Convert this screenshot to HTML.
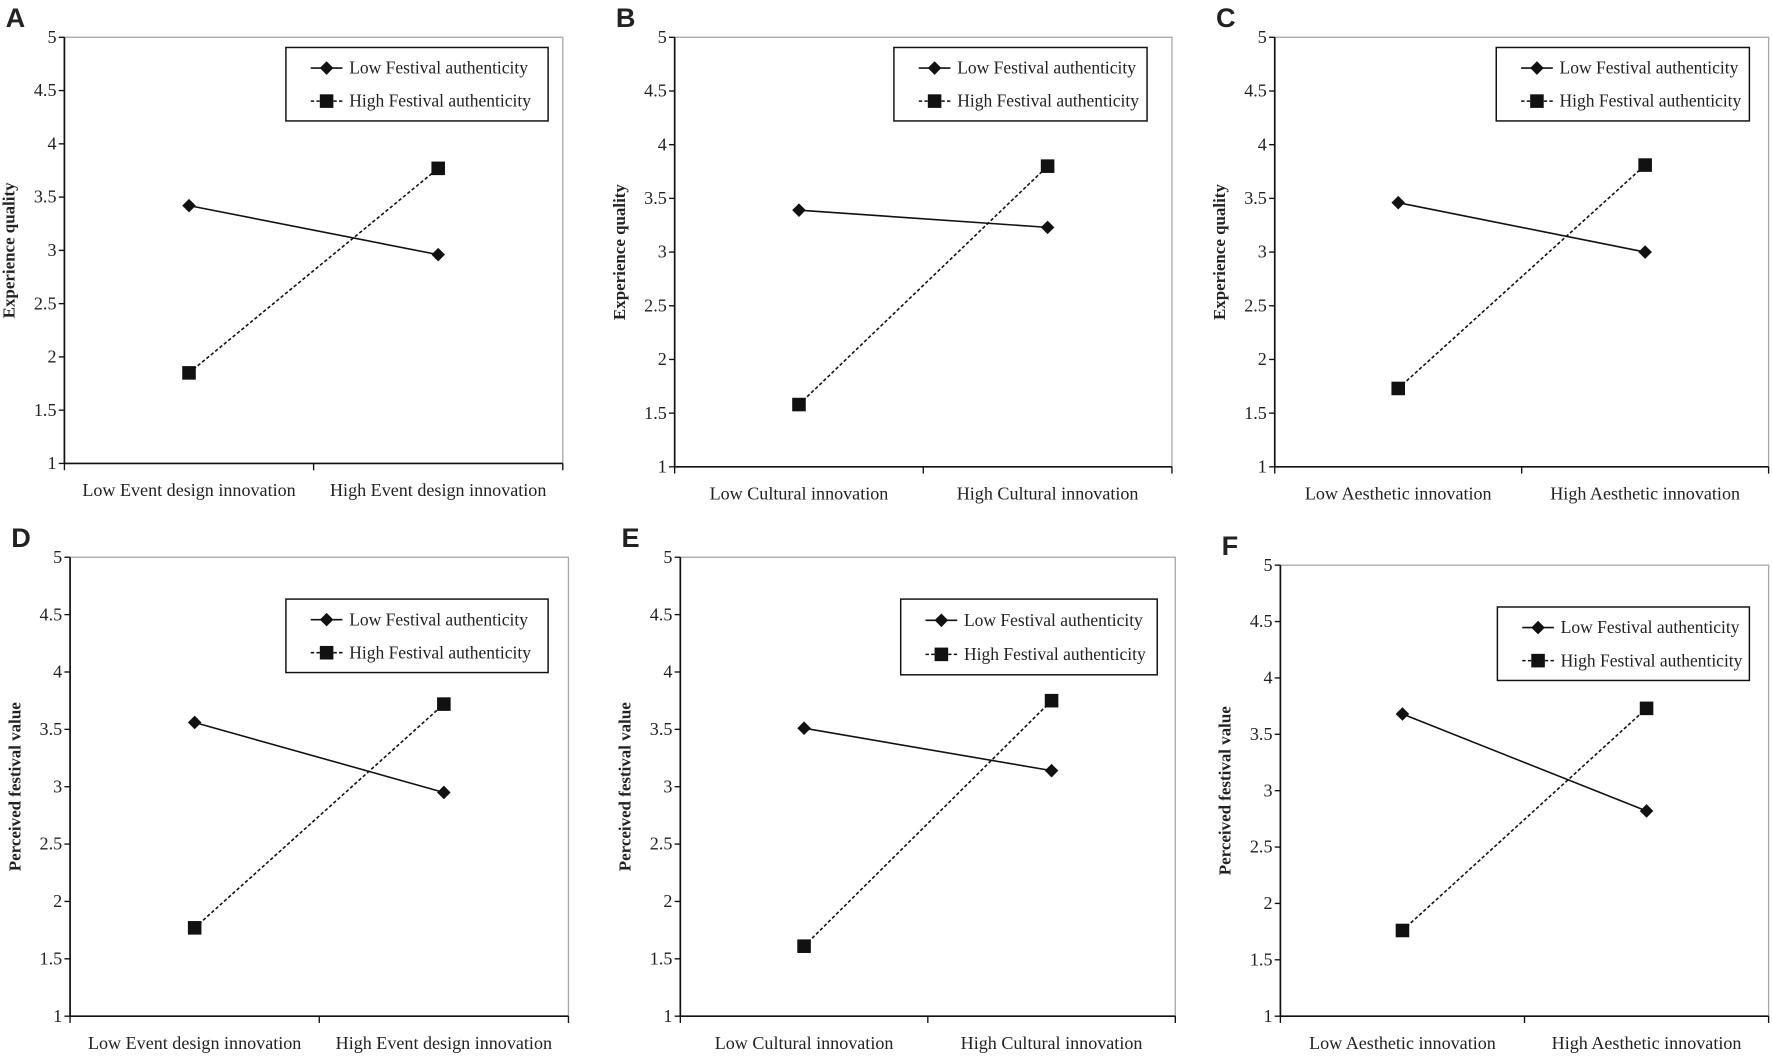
<!DOCTYPE html>
<html><head><meta charset="utf-8"><style>
html,body{margin:0;padding:0;background:#fff;}
svg{display:block;}
text{font-family:"Liberation Serif",serif;fill:#222;}
</style></head><body>
<svg id="fig" width="1772" height="1058" viewBox="0 0 1568 936" preserveAspectRatio="none" xmlns="http://www.w3.org/2000/svg"></svg>
<script>
const panelLetters = ["A","B","C","D","E","F"];
const yTitles = ["Experience quality","Experience quality","Experience quality","Perceived festival value","Perceived festival value","Perceived festival value"];
const xCatsLow = ["Low Event design innovation","Low Cultural innovation","Low Aesthetic innovation","Low Event design innovation","Low Cultural innovation","Low Aesthetic innovation"];
const xCatsHigh = ["High Event design innovation","High Cultural innovation","High Aesthetic innovation","High Event design innovation","High Cultural innovation","High Aesthetic innovation"];
const lowAuth = [[3.42,2.96],[3.39,3.23],[3.46,3.00],[3.56,2.95],[3.51,3.14],[3.68,2.82]];
const highAuth = [[1.85,3.77],[1.58,3.80],[1.73,3.81],[1.77,3.72],[1.61,3.75],[1.76,3.73]];
const yTicks = [1,1.5,2,2.5,3,3.5,4,4.5,5];
const yTickLabels = ["1","1.5","2","2.5","3","3.5","4","4.5","5"];
const legendLabels = ["Low Festival authenticity","High Festival authenticity"];

const layout = [
 {l:57,r:498,t:33,b:410, lg:[253,485,42,107]},
 {l:597,r:1037,t:33,b:413, lg:[791,1015,42,107]},
 {l:1128,r:1565,t:33,b:413, lg:[1324,1548,42,107]},
 {l:62,r:503,t:493,b:899, lg:[253,485,530,595]},
 {l:602,r:1040,t:493,b:899, lg:[797,1024,530,597]},
 {l:1133,r:1565,t:500,b:899, lg:[1325,1548,537,602]}
];
const NS="http://www.w3.org/2000/svg";
const svg=document.getElementById('fig');
function mk(tag,attrs,parent){const e=document.createElementNS(NS,tag);for(const k in attrs)e.setAttribute(k,attrs[k]);(parent||svg).appendChild(e);return e;}
function marker(g,kind,x,y){
 if(kind==='d'){const m=mk('polygon',{points:`${x},${y-6} ${x+6},${y} ${x},${y+6} ${x-6},${y}`,fill:'#111'},g);
  }
 else{const m=mk('rect',{x:x-6,y:y-6,width:12,height:12,fill:'#111'},g);
  }
}
layout.forEach((L,i)=>{
 const g=mk('g',{});
 
 
 const ys=v=>L.b-(v-1)/4*(L.b-L.t);
 const xs=f=>L.l+f*(L.r-L.l);
 const lt=mk('text',{x:L.l-52,y:L.t-9,'font-size':24,'font-weight':'bold',style:'font-family:"Liberation Sans",sans-serif'},g);
 lt.textContent=panelLetters[i];
 
 const box=mk('rect',{x:L.l,y:L.t,width:L.r-L.l,height:L.b-L.t,fill:'none',stroke:'#aaa','stroke-width':1.2},g);
 
 const ya=mk('line',{x1:L.l,y1:L.t,x2:L.l,y2:L.b,stroke:'#111','stroke-width':1.5},g);
 
 const xa=mk('line',{x1:L.l,y1:L.b,x2:L.r,y2:L.b,stroke:'#111','stroke-width':1.5},g);
 
 yTicks.forEach((v,k)=>{
  mk('line',{x1:L.l-5,y1:ys(v),x2:L.l,y2:ys(v),stroke:'#111','stroke-width':1.2},g);
  const t=mk('text',{x:L.l-7,y:ys(v)+5,'font-size':16,'text-anchor':'end'},g);
  t.textContent=yTickLabels[k];
  
 });
 [0,0.5,1].forEach(f=>mk('line',{x1:xs(f),y1:L.b,x2:xs(f),y2:L.b+6,stroke:'#111','stroke-width':1.2},g));
 const xl=mk('text',{x:xs(0.25),y:L.b+29,'font-size':16,'text-anchor':'middle'},g);xl.textContent=xCatsLow[i];
 
 const xh=mk('text',{x:xs(0.75),y:L.b+29,'font-size':16,'text-anchor':'middle'},g);xh.textContent=xCatsHigh[i];
 
 const cy=(L.t+L.b)/2, tx=L.l-44;
 const yt=mk('text',{x:tx,y:cy,'font-size':15,'font-weight':'bold','text-anchor':'middle',transform:`rotate(-90 ${tx} ${cy})`},g);
 yt.textContent=yTitles[i];
 
 const lo=lowAuth[i], hi=highAuth[i];
 const l1=mk('line',{x1:xs(0.25),y1:ys(lo[0]),x2:xs(0.75),y2:ys(lo[1]),stroke:'#111','stroke-width':1.4},g);
 
 const l2=mk('line',{x1:xs(0.25),y1:ys(hi[0]),x2:xs(0.75),y2:ys(hi[1]),stroke:'#111','stroke-width':1.4,'stroke-dasharray':'3,2'},g);
 
 lo.forEach((v,k)=>marker(g,'d',xs(0.25+0.5*k),ys(v)));
 hi.forEach((v,k)=>marker(g,'s',xs(0.25+0.5*k),ys(v)));
 const [a,b,c,d]=L.lg;
 const lg=mk('g',{},g);
 
 mk('rect',{x:a,y:c,width:b-a,height:d-c,fill:'#fff',stroke:'#111','stroke-width':1.3},lg);
 const r1=c+(d-c)*0.28, r2=c+(d-c)*0.73;
 mk('line',{x1:a+22,y1:r1,x2:a+50,y2:r1,stroke:'#111','stroke-width':1.4},lg);
 marker(lg,'d',a+36,r1);
 mk('line',{x1:a+22,y1:r2,x2:a+50,y2:r2,stroke:'#111','stroke-width':1.4,'stroke-dasharray':'3,2'},lg);
 marker(lg,'s',a+36,r2);
 const e1=mk('text',{x:a+56,y:r1+5,'font-size':15.5},lg);e1.textContent=legendLabels[0];
 
 const e2=mk('text',{x:a+56,y:r2+5,'font-size':15.5},lg);e2.textContent=legendLabels[1];
 
});
</script>
</body></html>
